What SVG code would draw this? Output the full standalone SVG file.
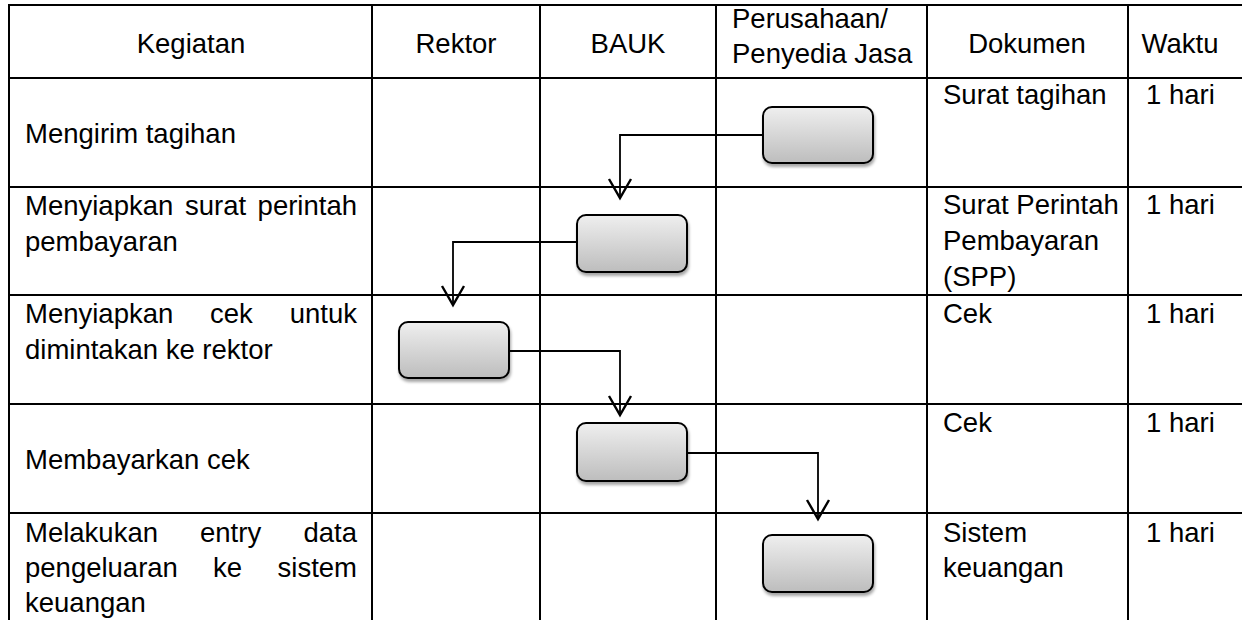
<svg xmlns="http://www.w3.org/2000/svg" width="1242" height="620" viewBox="0 0 1242 620">
  <style>
    .grid { stroke: #000; stroke-width: 2; fill: none; }
    .txt { font-family: "Liberation Sans", Arial, sans-serif; font-size: 27.5px; fill: #000; }
    .mid { text-anchor: middle; }
    .end { text-anchor: end; }
    .step { fill: url(#stepFill); stroke: #000; stroke-width: 2; filter: url(#shadow); }
    .flow { fill: none; stroke: #000; stroke-width: 1.8; marker-end: url(#arrow); }
  </style>
  <defs>
    <linearGradient id="stepFill" x1="0" y1="0" x2="0" y2="1">
      <stop offset="0" stop-color="#efefef"/>
      <stop offset="1" stop-color="#bdbdbd"/>
    </linearGradient>
    <filter id="shadow" x="-10%" y="-10%" width="130%" height="140%">
      <feDropShadow dx="1" dy="3" stdDeviation="1.5" flood-color="#000" flood-opacity="0.35"/>
    </filter>
    <marker id="arrow" markerUnits="userSpaceOnUse" markerWidth="40" markerHeight="40" refX="0" refY="0" orient="auto" overflow="visible">
      <path d="M-19,-11 L0,0 L-19,11" fill="none" stroke="#000" stroke-width="2.4"/>
    </marker>
  </defs>

  <!-- table grid -->
  <g id="grid" class="grid">
    <line x1="9" y1="5" x2="1242" y2="5"/>
    <line x1="9" y1="78" x2="1242" y2="78"/>
    <line x1="9" y1="187" x2="1242" y2="187"/>
    <line x1="9" y1="295" x2="1242" y2="295"/>
    <line x1="9" y1="404" x2="1242" y2="404"/>
    <line x1="9" y1="513" x2="1242" y2="513"/>
    <line x1="9" y1="4" x2="9" y2="620"/>
    <line x1="372" y1="4" x2="372" y2="620"/>
    <line x1="540" y1="4" x2="540" y2="620"/>
    <line x1="716" y1="4" x2="716" y2="620"/>
    <line x1="927" y1="4" x2="927" y2="620"/>
    <line x1="1128" y1="4" x2="1128" y2="620"/>
  </g>

  <!-- column headers -->
  <g id="header" class="txt">
    <text class="mid" x="191" y="53">Kegiatan</text>
    <text class="mid" x="456" y="53">Rektor</text>
    <text class="mid" x="628" y="53">BAUK</text>
    <text x="732" y="28">Perusahaan/</text>
    <text x="732" y="63">Penyedia Jasa</text>
    <text class="mid" x="1027" y="53">Dokumen</text>
    <text class="mid" x="1180" y="53">Waktu</text>
  </g>

  <!-- activity column (justified lines set word by word) -->
  <g id="kegiatan" class="txt">
    <text x="25" y="143">Mengirim tagihan</text>
    <text x="25" y="215">Menyiapkan</text>
    <text x="185" y="215">surat</text>
    <text class="end" x="357" y="215">perintah</text>
    <text x="25" y="251">pembayaran</text>
    <text x="25" y="323">Menyiapkan</text>
    <text x="210" y="323">cek</text>
    <text class="end" x="357" y="323">untuk</text>
    <text x="25" y="359">dimintakan ke rektor</text>
    <text x="25" y="469">Membayarkan cek</text>
    <text x="25" y="542">Melakukan</text>
    <text x="200" y="542">entry</text>
    <text class="end" x="357" y="542">data</text>
    <text x="25" y="577">pengeluaran</text>
    <text x="213" y="577">ke</text>
    <text class="end" x="357" y="577">sistem</text>
    <text x="25" y="612">keuangan</text>
  </g>

  <!-- document column -->
  <g id="dokumen" class="txt">
    <text x="943" y="104">Surat tagihan</text>
    <text x="943" y="214">Surat Perintah</text>
    <text x="943" y="250">Pembayaran</text>
    <text x="943" y="286">(SPP)</text>
    <text x="943" y="323">Cek</text>
    <text x="943" y="432">Cek</text>
    <text x="943" y="542">Sistem</text>
    <text x="943" y="577">keuangan</text>
  </g>

  <!-- time column -->
  <g id="waktu" class="txt">
    <text x="1146" y="104">1 hari</text>
    <text x="1146" y="214">1 hari</text>
    <text x="1146" y="323">1 hari</text>
    <text x="1146" y="432">1 hari</text>
    <text x="1146" y="542">1 hari</text>
  </g>

  <!-- process steps -->
  <g id="step-tagihan"><rect class="step" x="763" y="107" width="110" height="56" rx="9"/></g>
  <g id="step-spp"><rect class="step" x="577" y="215" width="110" height="57" rx="9"/></g>
  <g id="step-cek"><rect class="step" x="399" y="322" width="110" height="56" rx="9"/></g>
  <g id="step-bayar"><rect class="step" x="577" y="423" width="110" height="58" rx="9"/></g>
  <g id="step-entry"><rect class="step" x="763" y="535" width="110" height="57" rx="9"/></g>

  <!-- connectors -->
  <g id="connectors">
    <path class="flow" d="M763,135 H620 V198"/>
    <path class="flow" d="M577,242 H453 V305"/>
    <path class="flow" d="M509,351 H620 V415"/>
    <path class="flow" d="M687,453 H818 V519"/>
  </g>
</svg>
